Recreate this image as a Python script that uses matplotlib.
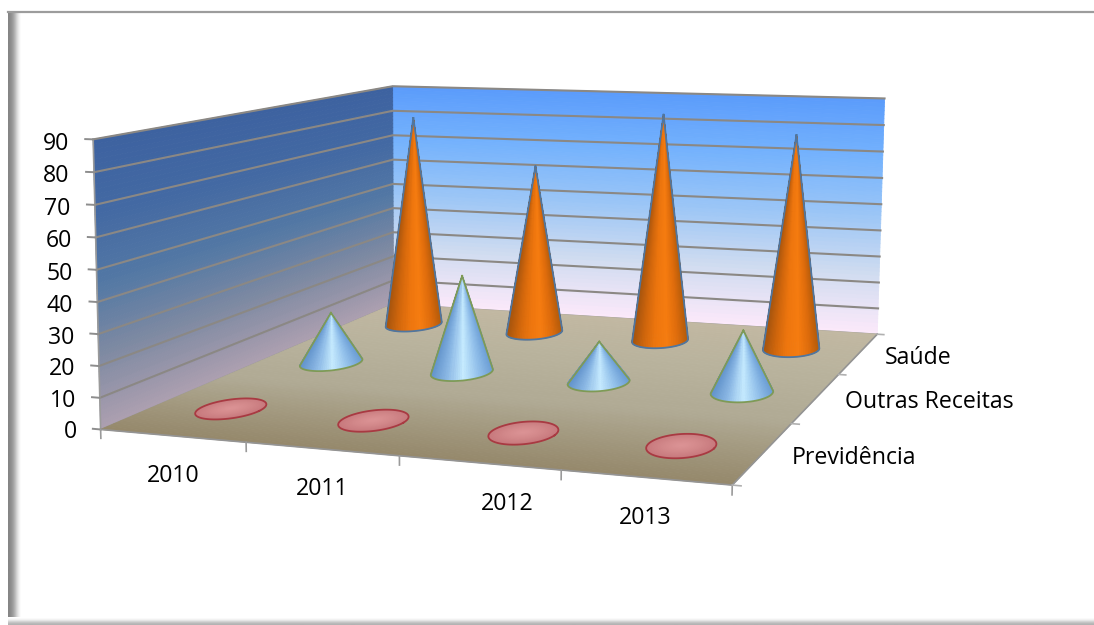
import matplotlib
matplotlib.use("Agg")
import matplotlib.pyplot as plt
from matplotlib.colors import LinearSegmentedColormap
import numpy as np

years = ["2010", "2011", "2012", "2013"]
series = ["Previdência", "Outras Receitas", "Saúde"]
previdencia = [0, 0, 0, 0]
outras_receitas = [18, 34, 14, 21]
saude = [81, 64, 85, 79]
z_ticks = [0, 10, 20, 30, 40, 50, 60, 70, 80, 90]

W, H = 1094, 625
FONT = "Open Sans"
TEXT_SIZE = 16.7
RADIUS = 0.2

# where the plot box sits on the canvas: (x, y, z) -> (px, py)
box_world = [(0, 0, 0), (4, 0, 0), (4, 3, 0), (0, 3, 0), (0, 3, 90), (4, 3, 90), (0, 0, 90)]
box_pixel = [(102, 429), (732, 486), (878, 333), (392, 305), (394, 86), (884, 99), (92, 139)]

year_label_pos = [(173, 476), (322, 489), (507, 504), (645, 518)]
series_label_pos = [(854, 458), (929, 402), (918, 358)]

back_cmap = LinearSegmentedColormap.from_list("back", ["#fbe9fa", "#d0dcf0", "#9cc6f6", "#74b2fd", "#5a9bfb"])
side_cmap = LinearSegmentedColormap.from_list("side", ["#ac9fb0", "#7f8aa2", "#5378a4", "#4369a3", "#3d62a0"])
floor_cmap = LinearSegmentedColormap.from_list("floor", ["#96896c", "#b0aa94", "#b9b39d", "#c2b8a2"])
orange_cmap = LinearSegmentedColormap.from_list("orange", ["#a4540e", "#d0660c", "#ee760e", "#f67c10", "#de6c0c", "#b05a0a"])
blue_cmap = LinearSegmentedColormap.from_list("blue", ["#6394cc", "#8cb9e6", "#c6ebff", "#94c2ec", "#6a9cd4"])
pink_cmap = LinearSegmentedColormap.from_list("pink", ["#c87a7e", "#d48a8c", "#dc9496"])


def fit_camera(world, pixel):
    # least squares camera matrix, last entry fixed to 1
    rows, rhs = [], []
    for (x, y, z), (px, py) in zip(world, pixel):
        u, v = px, H - py
        rows.append([x, y, z, 1, 0, 0, 0, 0, -u * x, -u * y, -u * z])
        rhs.append(u)
        rows.append([0, 0, 0, 0, x, y, z, 1, -v * x, -v * y, -v * z])
        rhs.append(v)
    p = np.linalg.lstsq(np.array(rows, dtype=float), np.array(rhs, dtype=float), rcond=None)[0]
    return np.append(p, 1.0).reshape(3, 4)


camera = fit_camera(box_world, box_pixel)


def project(x, y, z):
    w = camera[2, 0] * x + camera[2, 1] * y + camera[2, 2] * z + camera[2, 3]
    u = (camera[0, 0] * x + camera[0, 1] * y + camera[0, 2] * z + camera[0, 3]) / w
    v = (camera[1, 0] * x + camera[1, 1] * y + camera[1, 2] * z + camera[1, 3]) / w
    return u, v


fig = plt.figure(figsize=(W / 100, H / 100), dpi=100, facecolor="white")

# page border behind the chart
bg = fig.add_axes([0, 0, 1, 1], zorder=0)
bg.axis("off")
bg.imshow([[0.52, 0.56, 0.62, 0.72, 0.84, 0.94, 1.0]], cmap="gray", vmin=0, vmax=1, aspect="auto",
          extent=(8, 22, 625, 12), interpolation="bilinear")
bg.imshow([[1.0], [0.93], [0.8], [0.7]], cmap="gray", vmin=0, vmax=1, aspect="auto",
          extent=(8, W, 625, 617), interpolation="bilinear")
bg.plot([8, W], [12, 12], color="#9c9c9c", lw=1.6)
bg.set_xlim(0, W)
bg.set_ylim(H, 0)

# 3d axes are forced square, so make them wide enough to span the whole canvas
ax = fig.add_axes([0, -0.375, 1, 1.75], projection="3d", computed_zorder=False, zorder=1)
ax.set_axis_off()
ax.patch.set_alpha(0)


def get_proj():
    # camera gives display pixels, the 3d axes wants its own 2d data coords
    to_display = ax.transData.get_affine().get_matrix()
    to_data = np.linalg.inv(to_display)
    full = np.vstack([camera[0], camera[1], camera[2]])
    xy = to_data[:2, :2] @ full[:2] + np.outer(to_data[:2, 2], full[2])
    return np.vstack([xy, [0, 0, 0, -1], full[2]])


ax.get_proj = get_proj


def surface(xx, yy, zz, colors, zorder):
    ax.plot_surface(xx, yy, zz, facecolors=colors, shade=False, rstride=1, cstride=1,
                    linewidth=0.6, antialiased=True, zorder=zorder)


# walls and floor
s = np.linspace(0, 1, 60)
a, b = np.meshgrid(np.array([0.0, 1.0]), s)
surface(a * 4, np.full_like(a, 3.0), b * 90, back_cmap(b[:-1, :-1]), 1)
surface(np.zeros_like(a), a * 3, b * 90, side_cmap(b[:-1, :-1]), 1)
surface(a * 4, b * 3, np.zeros_like(a), floor_cmap(b[:-1, :-1]), 3)

# gridlines
grid_color = "#8b8884"
for z in z_ticks[1:]:
    ax.plot([0, 0, 4], [0, 3, 3], [z, z, z], color=grid_color, lw=1.5, zorder=2)
ax.plot([0, 0, 4], [0, 3, 3], [0, 0, 0], color="#9a9a9a", lw=1, zorder=2)
ax.plot([0, 0], [0, 0], [0, 90], color="#9a9a9a", lw=1.2, zorder=2)
ax.plot([0, 4, 4], [0, 0, 3], [0, 0, 0], color="#949494", lw=1.2, zorder=4)

# tick marks around the box
for z in z_ticks:
    ax.plot([0, -0.055], [0, 0], [z, z], color="#8d8d8d", lw=1.4, zorder=4)
for i in range(len(years) + 1):
    ax.plot([i, i], [0, 0], [0, -2.8], color="#9a9a9a", lw=1.2, zorder=4)
for j in range(len(series) + 1):
    ax.plot([4, 4.05], [j, j], [0, 0], color="#b0b0b0", lw=1.2, zorder=4)


def cone(cx, cy, height, cmap, edge, zorder):
    theta = np.linspace(0, 2 * np.pi, 91)
    rad = np.linspace(0, 1, 24)
    tt, ss = np.meshgrid(theta, rad)
    xx = cx + RADIUS * (1 - ss) * np.cos(tt)
    yy = cy + RADIUS * (1 - ss) * np.sin(tt)
    zz = height * ss
    base_u = project(cx + RADIUS * np.cos(theta), cy + RADIUS * np.sin(theta), 0 * theta)[0]
    left, right = theta[np.argmin(base_u)], theta[np.argmax(base_u)]
    if height > 0:
        shade = (base_u - base_u.min()) / (base_u.max() - base_u.min())
        colors = cmap(np.tile(shade[:-1], (len(rad) - 1, 1)))
    else:
        colors = cmap(ss[:-1, :-1])
    surface(xx, yy, zz, colors, zorder)
    if height > 0:
        # silhouette: both flanks plus the near part of the base
        if right < left:
            right += 2 * np.pi
        arc = np.linspace(left, right, 60)
        edge_x = np.r_[cx, cx + RADIUS * np.cos(arc), cx]
        edge_y = np.r_[cy, cy + RADIUS * np.sin(arc), cy]
        edge_z = np.r_[height, 0 * arc, height]
    else:
        edge_x = cx + RADIUS * np.cos(theta)
        edge_y = cy + RADIUS * np.sin(theta)
        edge_z = 0 * theta
    ax.plot(edge_x, edge_y, edge_z, color=edge, lw=1.3, zorder=zorder + 0.5)


# back row first so nearer cones cover it
rows = [(2.5, saude, orange_cmap, "#4f76a0"),
        (1.5, outras_receitas, blue_cmap, "#7f9a55"),
        (0.5, previdencia, pink_cmap, "#a83a42")]
for k, (depth, values, cmap, edge) in enumerate(rows):
    for i, v in enumerate(values):
        cone(i + 0.5, depth, v, cmap, edge, 10 + k * 2)

# labels
for label, (px, py) in zip(years, year_label_pos):
    fig.text(px / W, 1 - py / H, label, ha="center", va="center", family=FONT, size=TEXT_SIZE, zorder=5)
for label, (px, py) in zip(series, series_label_pos):
    fig.text(px / W, 1 - py / H, label, ha="center", va="center", family=FONT, size=TEXT_SIZE, zorder=5)
for z in z_ticks:
    u, v = project(-0.17, 0, z - 1.6)
    fig.text(u / W, v / H, str(z), ha="right", va="center", family=FONT, size=TEXT_SIZE, zorder=5)

fig.savefig("out.png", dpi=100)
